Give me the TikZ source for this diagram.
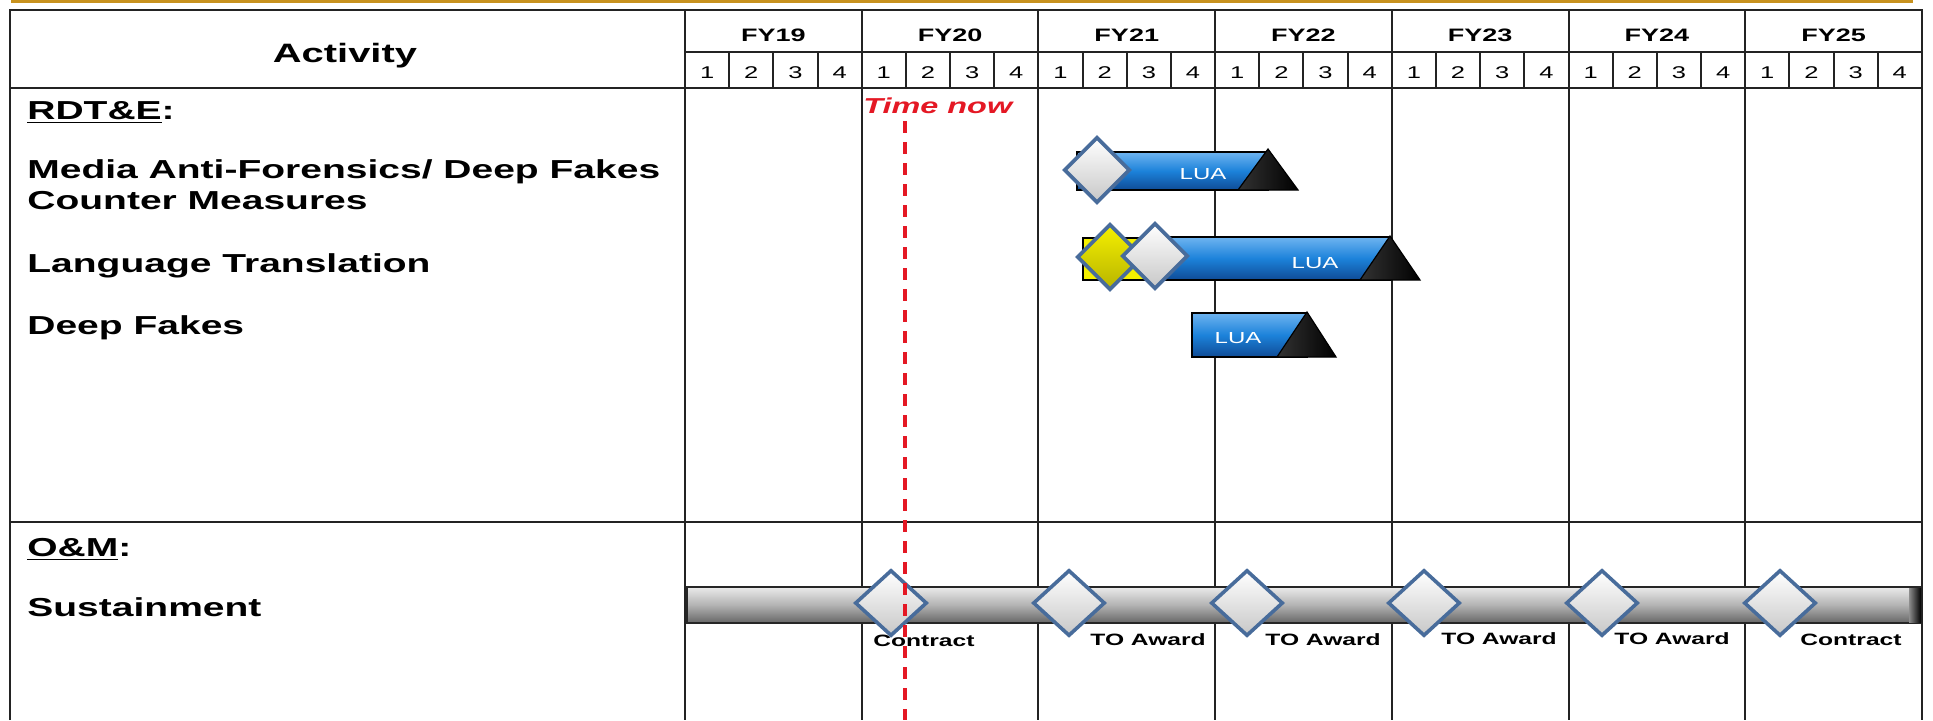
\documentclass[tikz,border=0pt]{standalone}
\usepackage{fontspec}
\setmainfont{Liberation Sans}[FakeStretch=1.5]
\usetikzlibrary{shapes.geometric}

\definecolor{gridline}{RGB}{35,35,35}
\definecolor{goldline}{RGB}{200,146,30}
\definecolor{nowred}{RGB}{228,24,36}
\definecolor{barblue}{RGB}{28,130,218}
\definecolor{barbluetop}{RGB}{110,180,240}
\definecolor{barbluebot}{RGB}{15,75,150}
\definecolor{diamondedge}{RGB}{72,108,155}
\definecolor{msyellow}{RGB}{245,240,0}

\tikzset{
  rowlabel/.style={anchor=base west, inner sep=0pt, align=left, font=\bfseries\fontsize{13}{15.5}\selectfont},
  headlabel/.style={anchor=base, inner sep=0pt, font=\bfseries\fontsize{13.3}{16}\selectfont},
  yearlabel/.style={inner sep=0pt, font=\bfseries\fontsize{9}{10}\selectfont},
  qtrlabel/.style={inner sep=0pt, font=\fontsize{8.5}{10}\selectfont},
  milelabel/.style={anchor=base west, inner sep=0pt, font=\bfseries\fontsize{8.2}{10}\selectfont},
  luatext/.style={anchor=base, inner sep=0pt, text=white, font=\fontsize{8}{10}\selectfont},
  nowlabel/.style={anchor=base west, inner sep=0pt, text=nowred, font=\bfseries\itshape\fontsize{10.8}{12}\selectfont},
  nowline/.style={nowred, line width=2pt, dash pattern=on 6pt off 4.5pt},
  bluebar/.style={draw=black, line width=0.8pt, top color=barbluetop, bottom color=barbluebot, middle color=barblue},
  endtri/.style={draw=black, line width=0.6pt, left color=black!80, right color=black},
  sustbar/.style={draw=black!85, line width=0.8pt, top color=black!8, bottom color=black!60, middle color=black!30},
  msdiamond/.style={diamond, inner sep=0pt, minimum width=33pt, minimum height=33pt, draw=diamondedge, line width=1.8pt, top color=white, bottom color=black!22},
  omdiamond/.style={msdiamond, minimum width=36pt, minimum height=33pt},
}

\begin{document}
\begin{tikzpicture}[x=0.5pt,y=0.5pt,yscale=-1,xscale=1]
	\useasboundingbox (0,0) rectangle (1933,720);
	\fill[goldline] (11,0) rectangle (1913,3);

	% table frame
	\draw[gridline, line width=1pt] (10,720) -- (10,10) -- (1922,10) -- (1922,720);
	\draw[gridline, line width=1pt] (10,88) -- (1922,88);
	\draw[gridline, line width=1pt] (685,52) -- (1922,52);
	\draw[gridline, line width=1.4pt] (10,522) -- (1922,522);
	\foreach \i in {0,...,6} {
		\pgfmathsetmacro{\xa}{685+176.7*\i}
		\pgfmathtruncatemacro{\yr}{19+\i}
		\draw[gridline, line width=1pt] (\xa,10) -- (\xa,720);
		\foreach \j in {1,2,3}
			\draw[gridline, line width=1pt] ({\xa+44.175*\j},52) -- ({\xa+44.175*\j},88);
		\node[yearlabel] (fy\yr) at ({\xa+88.35},35) {FY\yr};
		\foreach \j in {1,...,4}
			\node[qtrlabel] (q\yr-\j) at ({\xa+44.175*(\j-0.5)},73) {\j};
	}

	\node[headlabel] (act) at (345,62) {Activity};
	\node[rowlabel] (rdte) at (27,119) {\underline{RDT\&E}:};
	\node[rowlabel] (media) at (27,209) {Media Anti-Forensics/ Deep Fakes\\Counter Measures};
	\node[rowlabel] (lang) at (27,272) {Language Translation};
	\node[rowlabel] (fakes) at (27,334) {Deep Fakes};
	\node[rowlabel] (om) at (27,556) {\underline{O\&M}:};
	\node[rowlabel] (sust) at (27,616) {Sustainment};

	% media anti-forensics
	\draw[bluebar] (1077,152) rectangle (1268,190);
	\draw[endtri] (1238,190) -- (1268,149) -- (1298,190) -- cycle;
	\node[luatext] (lua1) at (1203,179) {LUA};
	\node[msdiamond] (ms1) at (1097,170) {};

	% language translation
	\draw[draw=black, line width=0.8pt, fill=msyellow] (1083,238) rectangle (1160,280);
	\draw[bluebar] (1150,237) rectangle (1390,280);
	\draw[endtri] (1360,280) -- (1390,236) -- (1420,280) -- cycle;
	\node[luatext] (lua2) at (1315,268) {LUA};
	\node[msdiamond, top color=msyellow, bottom color=msyellow!75!black] (ms2) at (1110,257) {};
	\node[msdiamond] (ms3) at (1155,256) {};

	% deep fakes
	\draw[bluebar] (1192,313) rectangle (1307,357);
	\draw[endtri] (1277,357) -- (1307,312) -- (1336,357) -- cycle;
	\node[luatext] (lua3) at (1238,343) {LUA};

	% sustainment
	\draw[sustbar] (687,587) rectangle (1921,623);
	\fill[left color=black!45, right color=black] (1909,588) rectangle (1921,622);
	\node[omdiamond] (om1) at (891,603) {};
	\node[omdiamond] (om2) at (1069,603) {};
	\node[omdiamond] (om3) at (1247,603) {};
	\node[omdiamond] (om4) at (1424,603) {};
	\node[omdiamond] (om5) at (1602,603) {};
	\node[omdiamond] (om6) at (1780,603) {};
	\node[milelabel] (lab1) at (873,646) {Contract};
	\node[milelabel] (lab2) at (1090,645) {TO Award};
	\node[milelabel] (lab3) at (1265,645) {TO Award};
	\node[milelabel] (lab4) at (1441,644) {TO Award};
	\node[milelabel] (lab5) at (1614,644) {TO Award};
	\node[milelabel] (lab6) at (1800,645) {Contract};

	% time now
	\node[nowlabel] (tnow) at (863,113) {Time now};
	\coordinate (nowtop) at (905,121);
	\coordinate (nowend) at (905,720);
	\draw[nowline] (nowtop) -- (nowend);
\end{tikzpicture}
\end{document}
